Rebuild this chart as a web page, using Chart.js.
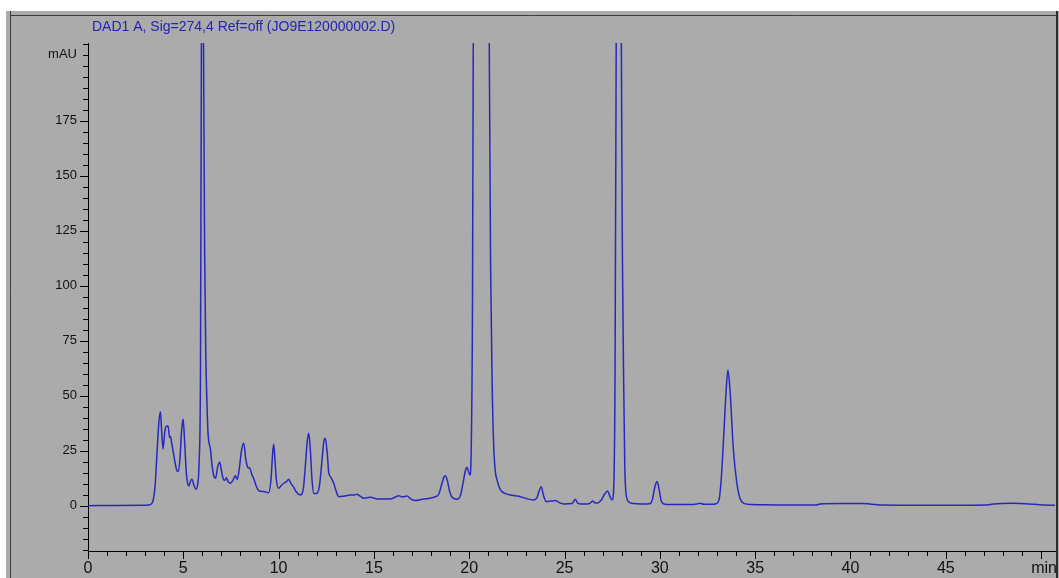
<!DOCTYPE html>
<html>
<head>
<meta charset="utf-8">
<title>DAD1 A chromatogram</title>
<script src="https://cdn.jsdelivr.net/npm/chart.js@4.4.1/dist/chart.umd.min.js"></script>
<style>
  html, body { margin: 0; padding: 0; background: #fff; }
  #wrap { width: 1059px; height: 578px; }
</style>
</head>
<body>
<div id="wrap"><canvas id="chart-dad" width="1059" height="578"></canvas></div>
<script>
// retention time (min) and detector signal (mAU)
var retentionTimes = [
  0, 1.5, 3.0, 3.3, 3.42, 3.52, 3.62, 3.72, 3.8, 3.87, 3.94, 4.02, 4.1, 4.2, 4.28, 4.33, 4.38, 4.46, 4.56, 4.66,
  4.74, 4.82, 4.91, 4.99, 5.07, 5.15, 5.23, 5.3, 5.38, 5.46, 5.55, 5.66, 5.75, 5.83, 5.9, 5.95, 6.0, 6.06, 6.12, 6.18,
  6.23, 6.29, 6.34, 6.42, 6.5, 6.6, 6.69, 6.8, 6.91, 7.0, 7.1, 7.18, 7.26, 7.36, 7.47, 7.6, 7.73, 7.83, 7.94, 8.05,
  8.17, 8.28, 8.38, 8.49, 8.6, 8.69, 8.8, 8.96, 9.22, 9.48, 9.6, 9.68, 9.74, 9.8, 9.88, 10.0, 10.14, 10.27, 10.4, 10.53,
  10.65, 10.79, 10.95, 11.14, 11.3, 11.42, 11.5, 11.58, 11.66, 11.75, 11.84, 12.0, 12.14, 12.27, 12.37, 12.45, 12.55, 12.63, 12.72, 12.89,
  13.02, 13.15, 13.4, 13.6, 13.77, 13.95, 14.1, 14.3, 14.46, 14.8, 15.25, 15.86, 16.1, 16.3, 16.5, 16.74, 16.95, 17.17, 17.6, 17.96,
  18.2, 18.4, 18.55, 18.67, 18.75, 18.85, 18.96, 19.1, 19.36, 19.55, 19.68, 19.8, 19.88, 19.96, 20.04, 20.1, 20.17, 20.24, 20.4, 20.6,
  20.8, 20.95, 21.05, 21.12, 21.2, 21.28, 21.37, 21.46, 21.59, 21.72, 21.9, 22.15, 22.4, 22.68, 23.0, 23.38, 23.56, 23.68, 23.78, 23.9,
  24.04, 24.3, 24.52, 24.72, 24.95, 25.4, 25.56, 25.68, 25.83, 26.18, 26.36, 26.47, 26.6, 26.72, 26.92, 27.1, 27.26, 27.38, 27.49, 27.58,
  27.65, 27.71, 27.78, 27.86, 27.93, 27.98, 28.04, 28.1, 28.16, 28.22, 28.36, 28.6, 29.0, 29.45, 29.6, 29.74, 29.85, 29.96, 30.06, 30.2,
  30.6, 31.5, 31.95, 32.1, 32.3, 32.7, 32.95, 33.1, 33.22, 33.34, 33.48, 33.57, 33.68, 33.86, 34.04, 34.18, 34.3, 34.6, 35.5, 37.0,
  38.2, 38.4, 39.5, 40.6, 41.0, 41.7, 43.5, 45.5, 47.1, 47.5, 48.5, 49.4, 49.9, 50.73
];
var signalMAU = [
  0, 0.1, 0.2, 0.6, 2.5, 9, 24, 38, 42.7, 33, 25.8, 33, 36, 36.2, 31, 31.5, 29, 25, 20, 16,
  15.5, 21, 34, 39.4, 29, 16, 10, 9, 11.2, 12, 9.5, 7.5, 9.5, 20, 60, 210, 420, 210, 115, 68,
  50, 34, 29, 26, 19, 13.5, 12.5, 17.5, 19.7, 16, 12, 11.5, 12.7, 10.8, 10.2, 11.5, 13.6, 12, 17, 25,
  28.4, 21, 17.5, 17, 14, 12.5, 9.5, 6.8, 6.4, 5.9, 12, 23, 27.9, 22, 12, 7.9, 9.2, 10.2, 10.8, 12,
  10, 8.4, 6, 4.9, 8, 20, 29, 32.9, 26, 12, 5.6, 5.5, 9, 20, 29, 30.6, 24, 15, 13.2, 10.2,
  6.5, 4.1, 4.3, 4.6, 4.9, 4.8, 5.2, 4.2, 3.4, 3.8, 3.0, 3.0, 3.8, 4.5, 4.0, 4.4, 3.0, 2.3, 3.0, 3.4,
  4.0, 5.2, 9.5, 13, 13.6, 11.5, 7, 3.8, 2.9, 5, 10.5, 16, 17.5, 15.5, 14, 24, 90, 300, 900, 1300,
  1100, 500, 210, 110, 57, 28, 15.5, 11.7, 8, 6.4, 5.5, 4.9, 4.5, 4.1, 3.2, 2.6, 3.8, 7, 8.6, 4.5,
  1.8, 2.1, 2.3, 1.4, 0.8, 1.0, 2.9, 1.2, 0.8, 0.8, 1.3, 2.1, 1.2, 1.2, 2.5, 5.2, 6.7, 4.2, 2.6, 8,
  60, 210, 500, 650, 450, 210, 110, 57, 18, 6, 1.8, 1.0, 0.8, 0.9, 2.5, 8.5, 11, 7.5, 2.5, 0.8,
  0.5, 0.5, 0.8, 1.1, 0.6, 0.6, 0.9, 2.5, 12, 29.9, 52.6, 61.7, 52.6, 25.3, 10.2, 4, 1.8, 0.6, 0.4, 0.3,
  0.3, 0.8, 1.0, 1.0, 0.8, 0.3, 0.2, 0.2, 0.3, 0.8, 1.1, 0.8, 0.4, 0.2
];

var xTickLabels = [0, 5, 10, 15, 20, 25, 30, 35, 40, 45];
var yTickLabels = [0, 25, 50, 75, 100, 125, 150, 175];
var xUnit = { at: 50, text: "min" };
var yUnit = { at: 205, text: "mAU" };
var signalTitle = "DAD1 A, Sig=274,4 Ref=off (JO9E120000002.D)";

var points = retentionTimes.map(function (t, i) {
  return { x: t, y: signalMAU[i] };
});

var yLabelFont = { family: "'Liberation Sans', Arial, sans-serif", size: 13 };
var xLabelFont = { family: "'Liberation Sans Narrow', 'Arial Narrow', 'Liberation Sans', sans-serif", size: 16 };
var labelColor = "#111111";

function near(a, b) { return Math.abs(a - b) < 1e-6; }

// grey instrument panel behind the plot, title above it
var panelPlugin = {
  id: "panel",
  beforeDraw: function (chart) {
    var ctx = chart.ctx;
    ctx.save();
    ctx.fillStyle = "#ffffff";
    ctx.fillRect(0, 0, chart.width, chart.height);
    ctx.fillStyle = "#ababab";
    ctx.fillRect(6, 11, chart.width - 6, chart.height - 11);
    ctx.strokeStyle = "#3c3c3c";
    ctx.lineWidth = 1;
    ctx.beginPath();
    ctx.moveTo(10.5, 11);
    ctx.lineTo(10.5, chart.height);
    ctx.moveTo(10.5, 15.5);
    ctx.lineTo(chart.width - 3, 15.5);
    ctx.stroke();
    ctx.fillStyle = "#2e2e2e";
    ctx.fillRect(chart.width - 3, 11, 2, chart.height - 11);
    ctx.restore();
  },
  afterDraw: function (chart) {
    var ctx = chart.ctx;
    var xs = chart.scales.x;
    ctx.save();
    ctx.font = "14px 'Liberation Sans', Arial, sans-serif";
    ctx.fillStyle = "#2424b4";
    ctx.textBaseline = "alphabetic";
    ctx.fillText(signalTitle, 92, 31);
    // time unit sits at the right end of the axis
    ctx.font = xLabelFont.size + "px " + xLabelFont.family;
    ctx.fillStyle = labelColor;
    ctx.textAlign = "right";
    ctx.textBaseline = "alphabetic";
    ctx.fillText(xUnit.text, xs.right + 2, 573);
    ctx.restore();
  }
};

// major/minor tick marks on the outside of both axes
var tickMarkPlugin = {
  id: "tickMarks",
  afterDraw: function (chart) {
    var ctx = chart.ctx;
    var xs = chart.scales.x, ys = chart.scales.y;
    var area = chart.chartArea;
    ctx.save();
    ctx.strokeStyle = "#000";
    ctx.lineWidth = 1;
    ctx.beginPath();
    xs.ticks.forEach(function (tk) {
      var px = Math.round(xs.getPixelForValue(tk.value)) + 0.5;
      var len = xTickLabels.some(function (v) { return near(v, tk.value); }) || near(tk.value, xUnit.at) ? 8 : 5;
      ctx.moveTo(px, area.bottom);
      ctx.lineTo(px, area.bottom + len);
    });
    ys.ticks.forEach(function (tk) {
      var py = Math.round(ys.getPixelForValue(tk.value)) + 0.5;
      var len = yTickLabels.some(function (v) { return near(v, tk.value); }) ? 8 : 5;
      ctx.moveTo(area.left, py);
      ctx.lineTo(area.left - len, py);
    });
    ctx.stroke();
    ctx.restore();
  }
};

var ctx = document.getElementById("chart-dad").getContext("2d");

new Chart(ctx, {
  type: "line",
  data: {
    datasets: [
      {
        label: "DAD1 A",
        data: points,
        borderColor: "#2828bf",
        borderWidth: 1.5,
        pointRadius: 0,
        fill: false,
        cubicInterpolationMode: "monotone"
      }
    ]
  },
  options: {
    responsive: false,
    animation: false,
    events: [],
    layout: {
      padding: { top: 43, left: 0, right: 4, bottom: 0 }
    },
    plugins: {
      legend: { display: false },
      tooltip: { enabled: false },
      title: { display: false }
    },
    scales: {
      x: {
        type: "linear",
        min: 0,
        max: 50.73,
        afterFit: function (scale) { scale.height = 27; },
        grid: { display: false, drawTicks: false },
        border: { display: true, color: "#000", width: 1 },
        ticks: {
          stepSize: 1,
          includeBounds: false,
          autoSkip: false,
          maxRotation: 0,
          padding: 8,
          color: labelColor,
          font: xLabelFont,
          callback: function (value) {
            var hit = xTickLabels.filter(function (v) { return near(v, value); });
            return hit.length ? String(hit[0]) : "";
          }
        }
      },
      y: {
        type: "linear",
        min: -20.6,
        max: 210.3,
        afterFit: function (scale) { scale.width = 88; },
        grid: { display: false, drawTicks: false },
        border: { display: true, color: "#000", width: 1 },
        ticks: {
          stepSize: 5,
          includeBounds: false,
          autoSkip: false,
          padding: 11,
          color: labelColor,
          font: yLabelFont,
          callback: function (value) {
            if (near(value, yUnit.at)) return yUnit.text;
            var hit = yTickLabels.filter(function (v) { return near(v, value); });
            return hit.length ? String(hit[0]) : "";
          }
        }
      }
    }
  },
  plugins: [panelPlugin, tickMarkPlugin]
});
</script>
</body>
</html>
